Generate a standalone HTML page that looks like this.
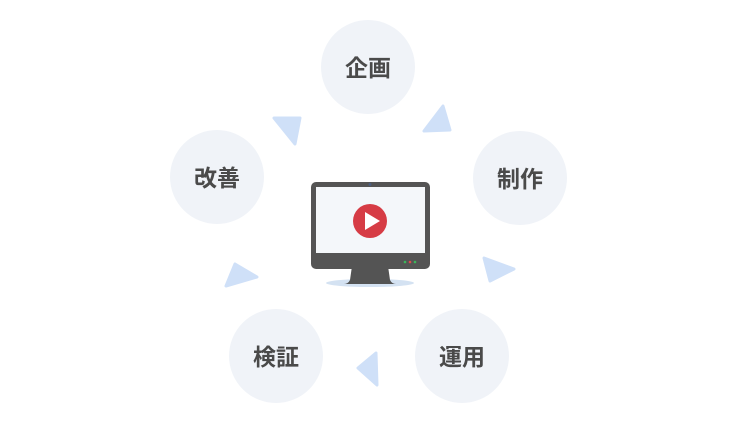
<!DOCTYPE html>
<html><head><meta charset="utf-8"><style>
html,body{margin:0;padding:0;background:#fff;}
svg text{font-family:"Liberation Sans","Noto Sans CJK JP",sans-serif;font-weight:bold;font-size:23px;fill:#4a4a4a;}
</style></head><body>
<svg width="750" height="422" viewBox="0 0 750 422" xmlns="http://www.w3.org/2000/svg">
<g fill="#f0f3f8">
<circle cx="368" cy="67" r="47"/>
<circle cx="520" cy="178" r="47"/>
<circle cx="462" cy="356" r="47"/>
<circle cx="276" cy="356" r="47"/>
<circle cx="217" cy="177" r="47"/>
</g>
<g text-anchor="middle" dominant-baseline="central">
<text x="368" y="68">企画</text>
<text x="520" y="179">制作</text>
<text x="462" y="357">運用</text>
<text x="276" y="357">検証</text>
<text x="217" y="178">改善</text>
</g>
<g fill="#cfe0f8" stroke="#cfe0f8" stroke-width="3" stroke-linejoin="round">
<polygon points="443,106 424,131 450,130"/>
<polygon points="484,258 490,281 514,269"/>
<polygon points="274,118 300,118 295,144"/>
<polygon points="235,264 226,286 257,277"/>
<polygon points="376,353 358,368 377,385"/>
</g>
<ellipse cx="370" cy="283" rx="44" ry="4" fill="#d4e2f2"/>
<path d="M352,266 L388,266 L390,280 Q392,284 396,284 L344,284 Q348,284 350,280 Z" fill="#545454"/>
<rect x="311" y="182" width="119" height="87" rx="5" fill="#545454"/>
<rect x="316" y="187" width="109" height="66" fill="#f4f7fa"/>
<circle cx="370" cy="184.5" r="1.5" fill="#4a5d80"/>
<circle cx="370" cy="221" r="17" fill="#d63c45"/>
<polygon points="365,212 365,230 380,221" fill="#fff"/>
<circle cx="405" cy="262" r="1.3" fill="#3cb65a"/>
<circle cx="410" cy="262" r="1.3" fill="#e04a4a"/>
<circle cx="415" cy="262" r="1.3" fill="#3cb65a"/>
</svg>
</body></html>
